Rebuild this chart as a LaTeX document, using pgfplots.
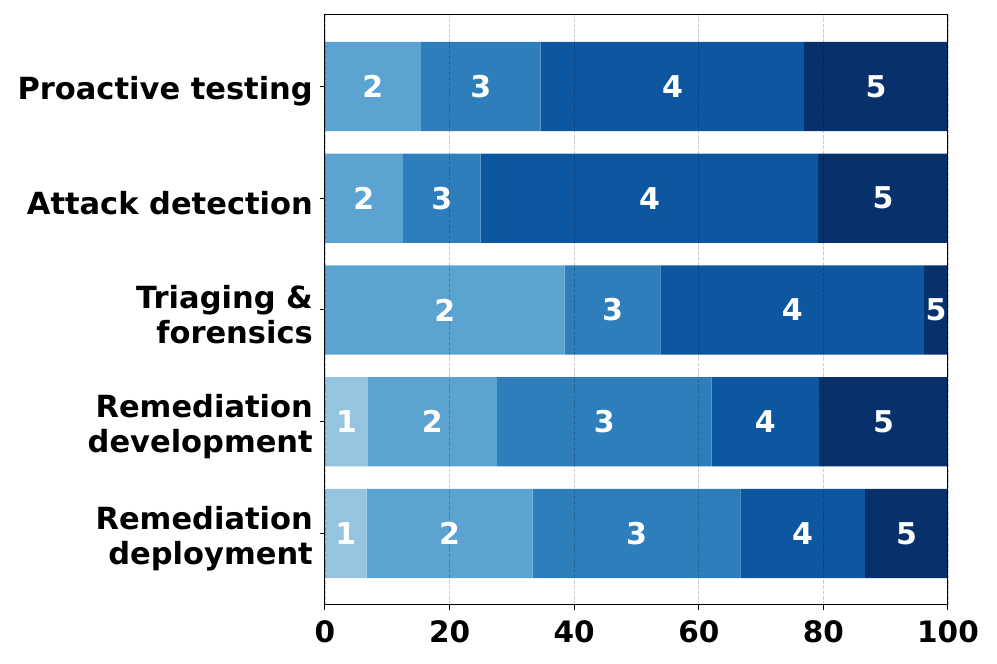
\documentclass[border=0pt]{standalone}
\usepackage{pgfplots}
\usepackage{pgfplotstable}
\pgfplotsset{compat=1.18}
\usepackage{fontspec}
\setmainfont{DejaVu Sans}

\definecolor{b1}{RGB}{148,196,223}
\definecolor{b2}{RGB}{91,163,208}
\definecolor{b3}{RGB}{47,126,188}
\definecolor{b4}{RGB}{13,87,161}
\definecolor{b5}{RGB}{8,48,107}

% share of answers (%) per rating 1..5
\pgfplotstableread{
y a    b     c     d     e
4 0    15.38 19.23 42.31 23.08
3 0    12.50 12.50 54.17 20.83
2 0    38.46 15.38 42.31 3.85
1 6.90 20.69 34.48 17.24 20.69
0 6.67 26.67 33.33 20.00 13.33
}\shares

\pgfplotsset{
  common/.style={
    at={(0,0)}, anchor=south west,
    width=623pt, height=590pt, scale only axis,
    xmin=0, xmax=100, ymin=-0.64, ymax=4.64,
  },
  seglab/.style={only marks, mark=text, text mark={#1},
    text mark as node=true,
    mark options={white},
    text mark style={font=\bfseries\fontsize{30}{30}\selectfont, text=white, inner sep=0pt}},
}

\begin{document}
\begin{tikzpicture}
\path[use as bounding box] (-325pt,-59pt) rectangle (672pt,605pt);
\begin{axis}[common,
  xbar stacked, bar width=0.8,
  axis on top,
  axis line style={line width=1pt},
  xtick={0,20,40,60,80,100},
  ytick={0,1,2,3,4},
  yticklabels={{Remediation\\deployment},{Remediation\\development},{Triaging \&\\forensics},{Attack detection},{Proactive testing}},
  xtick pos=bottom, ytick pos=left,
  tick align=outside, major tick length=5pt,
  tick style={line width=1pt, black},
  xmajorgrids,
  major grid style={black, opacity=0.2, line width=0.9pt, dash pattern=on 3.7pt off 1.6pt},
  /pgf/number format/assume math mode=true,
  xticklabel style={font=\bfseries\fontsize{29.5}{30}\selectfont, inner sep=0pt},
  xticklabel shift=10pt,
  yticklabel style={font=\bfseries\fontsize{30.5}{35}\selectfont, align=right, inner sep=0pt, yshift=-5pt},
  yticklabel shift=7pt,
]
\addplot[fill=b1, draw=none] table[x=a, y=y] {\shares};
\addplot[fill=b2, draw=none] table[x=b, y=y] {\shares};
\addplot[fill=b3, draw=none] table[x=c, y=y] {\shares};
\addplot[fill=b4, draw=none] table[x=d, y=y] {\shares};
\addplot[fill=b5, draw=none] table[x=e, y=y] {\shares};
\end{axis}
\begin{axis}[common, hide axis]
\addplot[seglab=1] coordinates {(3.45,1) (3.33,0)};
\addplot[seglab=2] coordinates {(7.69,4) (6.25,3) (19.23,2) (17.24,1) (20.00,0)};
\addplot[seglab=3] coordinates {(25.00,4) (18.75,3) (46.15,2) (44.83,1) (50.00,0)};
\addplot[seglab=4] coordinates {(55.77,4) (52.08,3) (75.00,2) (70.69,1) (76.67,0)};
\addplot[seglab=5] coordinates {(88.46,4) (89.58,3) (98.08,2) (89.66,1) (93.33,0)};
\end{axis}
\end{tikzpicture}
\end{document}
